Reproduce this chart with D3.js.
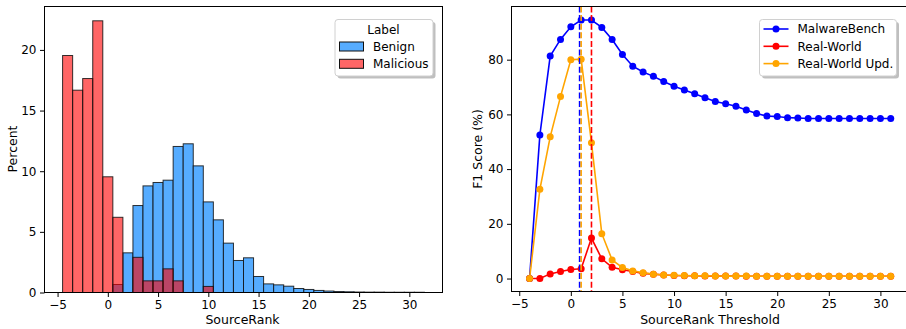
<!DOCTYPE html>
<html lang="en">
<head>
<meta charset="UTF-8">
<title>SourceRank</title>
<script src="https://d3js.org/d3.v7.min.js"></script>
<style>
  body { margin: 0; background: #fff; }
  text { font-family: "DejaVu Sans", sans-serif; }
</style>
</head>
<body>
<svg id="chart" width="906" height="329"></svg>
<script>
// ---- data: histogram (bin centers, percent per bin) ----
const binCenters = d3.range(-4, 32);   // -4 .. 31, width 1
const benign = [0, 0, 0, 0, 0, 0.66, 3.27, 7.17, 8.79, 9.07, 9.26, 12.04, 12.26, 10.44, 7.47, 5.99,
  4.07, 2.64, 2.86, 1.32, 0.71, 0.63, 0.52, 0.33, 0.25, 0.17, 0.12, 0.08, 0.06, 0.04, 0.03, 0.03,
  0.02, 0.02, 0.02, 0.02];
const malicious = [19.54, 16.68, 17.64, 22.4, 9.54, 6.2, 0, 2.9, 0.96, 0.96, 1.95, 0.96, 0, 0, 0.5, 0,
  0, 0, 0, 0, 0, 0, 0, 0, 0, 0, 0, 0, 0, 0, 0, 0, 0, 0, 0, 0];
const histTicksX = [-5, 0, 5, 10, 15, 20, 25, 30];
const histTicksY = [0, 5, 10, 15, 20];

// ---- data: F1 score vs threshold ----
const thresholds = d3.range(-4, 32);  // -4 .. 31
const malwareBench = [0, 52.5, 81.3, 87.4, 92.0, 94.5, 94.5, 91.8, 87.4, 81.9, 77.6, 75.5, 73.9, 72.0,
  70.3, 68.9, 67.5, 66.1, 64.7, 63.9, 63.0, 61.6, 60.3, 59.4, 59.2, 58.8, 58.7, 58.5, 58.5, 58.5,
  58.5, 58.5, 58.5, 58.5, 58.5, 58.5];
const realWorld = [0, 0, 1.7, 2.6, 3.3, 3.6, 14.8, 7.2, 4.1, 3.2, 2.6, 1.9, 1.6, 1.3, 1.1, 1.0, 1.0,
  0.95, 0.9, 0.9, 0.9, 0.85, 0.85, 0.85, 0.85, 0.85, 0.85, 0.85, 0.85, 0.85, 0.85, 0.85, 0.85,
  0.85, 0.85, 0.85];
const realWorldUpd = [0, 32.6, 51.8, 66.5, 80.0, 80.2, 49.6, 16.4, 6.8, 4.0, 2.8, 2.1, 1.6, 1.3, 1.2,
  1.1, 1.0, 1.0, 0.95, 0.9, 0.9, 0.9, 0.85, 0.85, 0.85, 0.85, 0.85, 0.85, 0.85, 0.85, 0.85, 0.85,
  0.85, 0.85, 0.85, 0.85];
const bestThresholds = [0.85, 1.0, 2.0];  // MalwareBench, Real-World Upd., Real-World
const lineTicksX = [-5, 0, 5, 10, 15, 20, 25, 30];
const lineTicksY = [0, 20, 40, 60, 80];

const svg = d3.select("#chart");

function styleAxis(g) {
  g.select(".domain").remove();
  g.selectAll(".tick line").attr("stroke", "#000").attr("stroke-width", 1);
  g.selectAll(".tick text").attr("font-size", 12).attr("fill", "#000")
    .attr("font-family", "DejaVu Sans, sans-serif");
}

function legendBox(g, x, y, w, h) {
  g.append("rect").attr("x", x + 2.5).attr("y", y + 2.5).attr("width", w).attr("height", h)
    .attr("rx", 3).attr("fill", "#000").attr("opacity", 0.25);
  g.append("rect").attr("x", x).attr("y", y).attr("width", w).attr("height", h)
    .attr("rx", 3).attr("fill", "#fff").attr("stroke", "#d0d0d0");
}

// ================= left: histogram =================
{
  const x = d3.scaleLinear().domain([-6.3, 33.3]).range([44.5, 442.5]);
  const y = d3.scaleLinear().domain([0, 23.58]).range([292.5, 6.5]);
  const g = svg.append("g");

  const bins = binCenters.map((c, i) => ({c, b: benign[i], m: malicious[i]}));

  g.selectAll("rect.benign").data(bins.filter(d => d.b > 0)).join("rect")
    .attr("x", d => x(d.c - 0.5)).attr("width", d => x(d.c + 0.5) - x(d.c - 0.5))
    .attr("y", d => y(d.b)).attr("height", d => y(0) - y(d.b))
    .attr("fill", "rgb(86,172,255)").attr("stroke", "#111").attr("stroke-opacity", 0.85)
    .attr("stroke-width", 1);

  g.selectAll("rect.mal").data(bins.filter(d => d.m > 0)).join("rect")
    .attr("x", d => x(d.c - 0.5)).attr("width", d => x(d.c + 0.5) - x(d.c - 0.5))
    .attr("y", d => y(d.m)).attr("height", d => y(0) - y(d.m))
    .attr("fill", "rgb(255,0,0)").attr("fill-opacity", 0.6)
    .attr("stroke", "#111").attr("stroke-opacity", 0.85).attr("stroke-width", 1);

  g.append("g").attr("transform", "translate(0,292.5)")
    .call(d3.axisBottom(x).tickValues(histTicksX).tickFormat(d => d < 0 ? "\u2212" + (-d) : d)
      .tickSize(4.5).tickPadding(3)).call(styleAxis);
  g.append("g").attr("transform", "translate(44.5,0)")
    .call(d3.axisLeft(y).tickValues(histTicksY).tickSize(4.5).tickPadding(3.5)).call(styleAxis);

  g.append("rect").attr("x", 44.5).attr("y", 6.5).attr("width", 398).attr("height", 286)
    .attr("fill", "none").attr("stroke", "#000").attr("stroke-width", 1);

  g.append("text").attr("x", 242.5).attr("y", 324).attr("text-anchor", "middle")
    .attr("font-size", 12.5).text("SourceRank");
  g.append("text").attr("transform", "translate(16.5,149) rotate(-90)").attr("text-anchor", "middle")
    .attr("font-size", 12.5).text("Percent");

  // legend
  const lg = g.append("g");
  legendBox(lg, 335, 19.5, 98, 56.5);
  lg.append("text").attr("x", 383.5).attr("y", 33.5).attr("text-anchor", "middle")
    .attr("font-size", 12).text("Label");
  const items = [["Benign", "rgb(86,172,255)", 1], ["Malicious", "rgb(255,0,0)", 0.6]];
  items.forEach(([name, col, op], i) => {
    const cy = 46.5 + i * 17.3;
    lg.append("rect").attr("x", 339.5).attr("y", cy - 4.5).attr("width", 24).attr("height", 9)
      .attr("fill", col).attr("fill-opacity", op).attr("stroke", "#111").attr("stroke-width", 1);
    lg.append("text").attr("x", 373).attr("y", cy + 4.3).attr("font-size", 12).text(name);
  });
}

// ================= right: F1 lines =================
{
  const x = d3.scaleLinear().domain([-5.75, 32.75]).range([511.5, 908.8]);
  const y = d3.scaleLinear().domain([-4.735, 99.435]).range([291.5, 6.5]);
  const g = svg.append("g");

  const series = [
    {name: "MalwareBench", color: "blue", values: malwareBench},
    {name: "Real-World", color: "red", values: realWorld},
    {name: "Real-World Upd.", color: "orange", values: realWorldUpd}
  ];

  const line = d3.line().x((d, i) => x(thresholds[i])).y(d => y(d));
  series.forEach(s => {
    g.append("path").attr("d", line(s.values)).attr("fill", "none")
      .attr("stroke", s.color).attr("stroke-width", 1.6);
    g.selectAll(null).data(s.values).join("circle")
      .attr("cx", (d, i) => x(thresholds[i])).attr("cy", d => y(d)).attr("r", 3.5)
      .attr("fill", s.color);
  });

  // best-threshold markers
  const vColors = ["blue", "orange", "red"];
  bestThresholds.forEach((t, i) => {
    g.append("line").attr("x1", x(t)).attr("x2", x(t)).attr("y1", 6.5).attr("y2", 291.5)
      .attr("stroke", vColors[i]).attr("stroke-width", 1.6).attr("stroke-dasharray", "6,2.6");
  });

  g.append("g").attr("transform", "translate(0,291.5)")
    .call(d3.axisBottom(x).tickValues(lineTicksX).tickFormat(d => d < 0 ? "\u2212" + (-d) : d)
      .tickSize(4.5).tickPadding(3)).call(styleAxis);
  g.append("g").attr("transform", "translate(511.5,0)")
    .call(d3.axisLeft(y).tickValues(lineTicksY).tickSize(4.5).tickPadding(3.5)).call(styleAxis);

  g.append("rect").attr("x", 511.5).attr("y", 6.5).attr("width", 397.3).attr("height", 285)
    .attr("fill", "none").attr("stroke", "#000").attr("stroke-width", 1);

  g.append("text").attr("x", 710).attr("y", 324).attr("text-anchor", "middle")
    .attr("font-size", 12.5).text("SourceRank Threshold");
  g.append("text").attr("transform", "translate(482,149) rotate(-90)").attr("text-anchor", "middle")
    .attr("font-size", 12.5).text("F1 Score (%)");

  // legend
  const lg = g.append("g");
  legendBox(lg, 759.5, 19.5, 137, 56.5);
  series.forEach((s, i) => {
    const cy = 29 + i * 17.3;
    lg.append("line").attr("x1", 763.5).attr("x2", 788.5).attr("y1", cy).attr("y2", cy)
      .attr("stroke", s.color).attr("stroke-width", 1.6);
    lg.append("circle").attr("cx", 776).attr("cy", cy).attr("r", 3.5).attr("fill", s.color);
    lg.append("text").attr("x", 797.5).attr("y", cy + 4.3).attr("font-size", 12).text(s.name);
  });
}
</script>
</body>
</html>
